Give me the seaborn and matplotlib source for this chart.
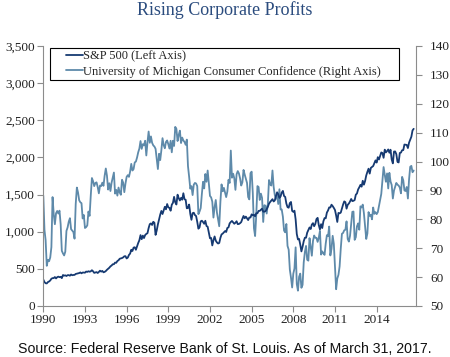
import numpy as np
import pandas as pd
import matplotlib
matplotlib.use("Agg")
import matplotlib.pyplot as plt
from matplotlib.patches import Rectangle
import seaborn as sns

# Monthly observations, Jul 1990 - Mar 2017
start_month = "1990-07"
end_month = "2017-03"

sp500 = [
    356.2, 322.6, 306.1, 304.0, 322.2, 330.2,                                       # 1990 H2
    343.9, 367.1, 375.2, 375.3, 389.8, 371.2, 387.8, 395.4, 387.9, 392.5, 375.2, 417.1,  # 1991
    408.8, 412.7, 403.7, 415.0, 415.4, 408.1, 424.2, 414.0, 417.8, 418.7, 431.4, 435.7,  # 1992
    438.8, 443.4, 451.7, 440.2, 450.2, 450.5, 448.1, 463.6, 458.9, 467.8, 461.8, 466.5,  # 1993
    481.6, 467.1, 445.8, 450.9, 456.5, 444.3, 458.3, 475.5, 462.7, 472.4, 453.7, 459.3,  # 1994
    470.4, 487.4, 500.7, 514.7, 533.4, 544.8, 562.1, 561.9, 584.4, 581.5, 605.4, 615.9,  # 1995
    636.0, 640.4, 645.5, 654.2, 669.1, 670.6, 640.0, 652.0, 687.3, 705.3, 757.0, 740.7,  # 1996
    786.2, 790.8, 757.1, 801.3, 848.3, 885.1, 954.3, 899.5, 947.3, 914.6, 955.4, 970.4,  # 1997
    980.3, 1049.3, 1101.8, 1111.8, 1090.8, 1133.8, 1120.7, 957.3, 1017.0, 1098.7, 1163.6, 1229.2,  # 1998
    1279.6, 1238.3, 1286.4, 1335.2, 1301.8, 1372.7, 1328.7, 1320.4, 1282.7, 1362.9, 1388.9, 1469.3,  # 1999
    1394.5, 1366.4, 1498.6, 1452.4, 1420.6, 1454.6, 1430.8, 1517.7, 1436.5, 1429.4, 1315.0, 1320.3,  # 2000
    1366.0, 1239.9, 1160.3, 1249.5, 1255.8, 1224.4, 1211.2, 1133.6, 1040.9, 1059.8, 1139.5, 1148.1,  # 2001
    1130.2, 1106.7, 1147.4, 1076.9, 1067.1, 989.8, 911.6, 916.1, 815.3, 885.8, 936.3, 879.8,  # 2002
    855.7, 841.2, 848.2, 916.9, 963.6, 974.5, 990.3, 1008.0, 996.0, 1050.7, 1058.2, 1111.9,  # 2003
    1131.1, 1144.9, 1126.2, 1107.3, 1120.7, 1140.8, 1101.7, 1104.2, 1114.6, 1130.2, 1173.8, 1211.9,  # 2004
    1181.3, 1203.6, 1180.6, 1156.9, 1191.5, 1191.3, 1234.2, 1220.3, 1228.8, 1207.0, 1249.5, 1248.3,  # 2005
    1280.1, 1280.7, 1294.9, 1310.6, 1270.1, 1270.2, 1276.7, 1303.8, 1335.9, 1377.9, 1400.6, 1418.3,  # 2006
    1438.2, 1406.8, 1420.9, 1482.4, 1530.6, 1503.4, 1455.3, 1474.0, 1526.8, 1549.4, 1481.1, 1468.4,  # 2007
    1378.6, 1330.6, 1322.7, 1385.6, 1400.4, 1280.0, 1267.4, 1282.8, 1166.4, 968.8, 896.2, 903.3,  # 2008
    825.9, 735.1, 797.9, 872.8, 919.1, 919.3, 987.5, 1020.6, 1057.1, 1036.2, 1095.6, 1115.1,  # 2009
    1073.9, 1104.5, 1169.4, 1186.7, 1089.4, 1030.7, 1101.6, 1049.3, 1141.2, 1183.3, 1180.6, 1257.6,  # 2010
    1286.1, 1327.2, 1325.8, 1363.6, 1345.2, 1320.6, 1292.3, 1218.9, 1131.4, 1253.3, 1247.0, 1257.6,  # 2011
    1312.4, 1365.7, 1408.5, 1397.9, 1310.3, 1362.2, 1379.3, 1406.6, 1440.7, 1412.2, 1416.2, 1426.2,  # 2012
    1498.1, 1514.7, 1569.2, 1597.6, 1630.7, 1606.3, 1685.7, 1633.0, 1681.6, 1756.5, 1805.8, 1848.4,  # 2013
    1782.6, 1859.5, 1872.3, 1884.0, 1923.6, 1960.2, 1930.7, 2003.4, 1972.3, 2018.1, 2067.6, 2058.9,  # 2014
    1995.0, 2104.5, 2067.9, 2085.5, 2107.4, 2063.1, 2103.8, 1972.2, 1920.0, 2079.4, 2080.4, 2043.9,  # 2015
    1940.2, 1932.2, 2059.7, 2065.3, 2097.0, 2098.9, 2173.6, 2171.0, 2168.3, 2126.2, 2198.8, 2238.8,  # 2016
    2278.9, 2363.6, 2385.0,                                                          # 2017 Q1
]

umich = [
    88.2, 76.4, 72.8, 63.9, 66.0, 65.5,                                   # 1990 H2
    66.8, 70.4, 87.7, 81.8, 78.3, 82.1, 82.9, 82.0, 83.0, 78.3, 69.1, 68.2,   # 1991
    67.5, 68.8, 76.0, 77.2, 79.2, 80.4, 76.6, 76.1, 75.6, 73.3, 85.3, 91.0,   # 1992
    89.3, 86.6, 85.9, 85.6, 80.3, 81.5, 77.0, 77.3, 77.9, 82.7, 81.2, 88.2,   # 1993
    94.3, 93.2, 91.5, 92.6, 92.8, 91.2, 89.0, 91.7, 91.5, 92.7, 91.6, 95.1,   # 1994
    97.6, 95.1, 90.3, 92.5, 89.8, 92.7, 94.4, 96.2, 88.9, 90.2, 88.2, 91.0,   # 1995
    89.3, 88.5, 93.7, 92.7, 89.4, 92.4, 94.7, 95.3, 94.7, 96.5, 99.2, 96.9,   # 1996
    97.4, 99.7, 100.0, 101.4, 103.2, 104.5, 107.1, 104.4, 106.0, 105.6, 107.2, 102.1,  # 1997
    106.6, 110.4, 106.5, 108.7, 106.5, 105.6, 105.2, 104.4, 100.9, 97.4, 102.7, 100.5,  # 1998
    103.9, 108.1, 105.7, 104.6, 106.8, 107.3, 106.0, 104.5, 107.2, 103.2, 107.2, 105.4,  # 1999
    112.0, 111.3, 107.1, 109.2, 110.7, 106.4, 108.3, 107.3, 106.8, 105.8, 107.6, 98.4,  # 2000
    94.7, 90.6, 91.5, 88.4, 92.0, 92.6, 92.4, 91.5, 81.8, 82.7, 83.9, 88.8,   # 2001
    93.0, 90.7, 95.7, 93.0, 96.9, 92.4, 88.1, 87.6, 86.1, 80.6, 84.2, 86.7,   # 2002
    82.4, 79.9, 77.6, 86.0, 92.1, 89.7, 90.9, 89.3, 87.7, 89.6, 93.7, 92.6,   # 2003
    103.8, 94.4, 95.8, 94.2, 90.2, 95.6, 96.7, 95.9, 94.2, 91.7, 92.8, 97.1,  # 2004
    95.5, 94.1, 92.6, 87.7, 86.9, 96.0, 96.5, 89.1, 76.9, 74.2, 81.6, 91.5,   # 2005
    91.2, 86.7, 88.9, 87.4, 79.1, 84.9, 84.7, 82.0, 85.4, 93.6, 92.1, 91.7,   # 2006
    96.9, 91.3, 88.4, 87.1, 88.3, 85.3, 90.4, 83.4, 83.4, 80.9, 76.1, 75.5,   # 2007
    78.4, 70.8, 69.5, 62.6, 59.8, 56.4, 61.2, 63.0, 70.3, 57.6, 55.3, 60.1,   # 2008
    61.2, 56.3, 57.3, 65.1, 68.7, 70.8, 66.0, 65.7, 73.5, 70.6, 67.4, 72.5,   # 2009
    74.4, 73.6, 73.6, 72.2, 73.6, 76.0, 67.8, 68.9, 68.2, 67.7, 71.6, 74.5,   # 2010
    74.2, 77.5, 67.5, 69.8, 74.3, 71.5, 63.7, 55.8, 59.5, 60.8, 63.7, 69.9,   # 2011
    75.0, 75.3, 76.2, 76.4, 79.3, 73.2, 72.3, 74.3, 78.3, 82.6, 82.7, 72.9,   # 2012
    73.8, 77.6, 78.6, 76.4, 84.5, 84.1, 85.1, 82.1, 77.5, 73.2, 75.1, 82.5,   # 2013
    81.2, 81.6, 80.0, 84.1, 81.9, 82.5, 81.8, 82.5, 84.6, 86.9, 88.8, 93.6,   # 2014
    98.1, 95.4, 93.0, 95.9, 90.7, 96.1, 93.1, 91.9, 87.2, 90.0, 91.3, 92.6,   # 2015
    92.0, 91.7, 91.0, 89.0, 94.7, 93.5, 90.0, 89.8, 91.2, 87.2, 93.8, 98.2,   # 2016
    98.5, 96.3, 96.9,                                                     # 2017 Q1
]

series_names = ["S&P 500 (Left Axis)",
                "University of Michigan Consumer Confidence (Right Axis)"]
title_text = "Rising Corporate Profits"
source_text = "Source: Federal Reserve Bank of St. Louis. As of March 31, 2017."
left_ticks = [0, 500, 1000, 1500, 2000, 2500, 3000, 3500]
right_ticks = [50, 60, 70, 80, 90, 100, 110, 120, 130, 140]
label_every = 36  # one year label every 36 monthly categories

dates = pd.date_range(start_month, end_month, freq="MS")
assert len(dates) == len(sp500) == len(umich)
df = pd.DataFrame({"idx": np.arange(len(dates)), "date": dates,
                   "sp500": sp500, "umich": umich})

sns.set_style("white")
plt.rcParams["font.family"] = ["Liberation Serif", "DejaVu Serif"]

navy = "#163A72"
steel = "#5E8AAA"
grey = "#8C8C8C"

W, H = 450, 357
fig = plt.figure(figsize=(4.5, 3.57), dpi=100)
ax = fig.add_axes([43.3 / W, 1 - 306 / H, (416 - 43.3) / W, 260 / H])
ax2 = ax.twinx()

sns.lineplot(data=df, x="idx", y="sp500", ax=ax, color=navy, lw=1.3,
             label=series_names[0], legend=False)
sns.lineplot(data=df, x="idx", y="umich", ax=ax2, color=steel, lw=1.3,
             label=series_names[1], legend=False)
ax.set_zorder(ax2.get_zorder() + 1)
ax.patch.set_visible(False)

ax.set_xlim(0, 322)
ax.set_ylim(left_ticks[0], left_ticks[-1])
ax2.set_ylim(right_ticks[0], right_ticks[-1])
ax.set_yticks(left_ticks)
ax.set_yticklabels([f"{v:,}" for v in left_ticks])
ax2.set_yticks(right_ticks)
ax2.set_yticklabels([str(v) for v in right_ticks])
tick_pos = list(range(0, len(dates), label_every))
ax.set_xticks(tick_pos)
ax.set_xticklabels([str(dates[i].year) for i in tick_pos])
ax.set_xlabel("")
ax.set_ylabel("")
ax2.set_ylabel("")

for a in (ax, ax2):
    a.spines["top"].set_visible(False)
    for s in ("left", "right", "bottom"):
        a.spines[s].set_color(grey)
        a.spines[s].set_linewidth(0.8)
    a.tick_params(colors=grey, labelcolor="#222222", labelsize=9.5,
                  length=4, width=0.8)
ax.spines["right"].set_visible(False)
ax2.spines["left"].set_visible(False)
ax2.spines["bottom"].set_visible(False)
ax.tick_params(axis="y", left=True, pad=2)
ax.tick_params(axis="x", bottom=True, pad=2)
ax2.tick_params(axis="y", right=True, pad=6)

# legend box (drawn as a plain frame) and frameless legend inside it
box = Rectangle((50 / W, 1 - 79.5 / H), (399 - 50) / W, (79.5 - 47.7) / H,
                transform=fig.transFigure, facecolor="white",
                edgecolor="black", lw=0.8, zorder=4, clip_on=False)
ax.add_patch(box)
h1, l1 = ax.get_legend_handles_labels()
h2, l2 = ax2.get_legend_handles_labels()
leg = ax.legend(h1 + h2, l1 + l2, loc="upper left",
                bbox_to_anchor=((65.7 - 43.3) / 372.7, (306 - 50.3) / 260),
                frameon=False, fontsize=9.0, handlelength=1.35,
                handletextpad=0.05, borderpad=0.0, labelspacing=0.27,
                borderaxespad=0.0)
leg.set_zorder(5)

fig.text(0.5, 0.997, title_text, ha="center", va="top", fontsize=13,
         color="#2B4C7E")
fig.text(0.5, 0.004, source_text, ha="center", va="bottom", fontsize=10.2,
         family=["Liberation Sans", "DejaVu Sans"], color="#111111")

fig.savefig("out.png", dpi=100)
